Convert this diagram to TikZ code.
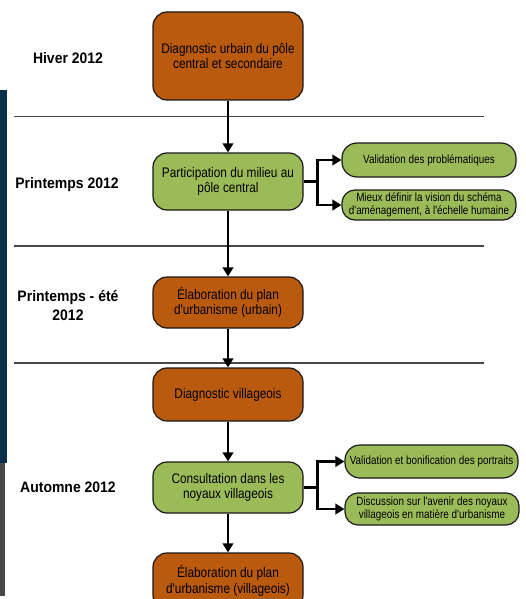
\documentclass[tikz,border=0pt]{standalone}
\usepackage{fontspec}
\setmainfont{Liberation Sans}
\newfontfamily\boxfont[FakeStretch=0.85]{Liberation Sans}
\newfontfamily\smallfont[FakeStretch=0.83]{Liberation Sans}
\newfontfamily\labfont[FakeStretch=0.92]{Liberation Sans}
\usetikzlibrary{arrows.meta}
\definecolor{orng}{RGB}{186,90,14}
\definecolor{grn}{RGB}{155,187,89}
\definecolor{navy}{RGB}{8,48,72}
\definecolor{strip}{RGB}{72,72,72}
\tikzset{
  bigbox/.style={draw=black!90, line width=1.2pt, rounded corners=14pt,
    minimum width=150pt, align=center, inner sep=0pt, text=black,
    font=\boxfont\fontsize{13.9}{15.5}\selectfont},
  orangebox/.style={bigbox, fill=orng},
  greenbox/.style={bigbox, fill=grn},
  smallbox/.style={draw=black!90, line width=1.2pt, fill=grn, rounded corners=13pt,
    align=center, inner sep=0pt, text=black,
    font=\smallfont\fontsize{11.9}{13}\selectfont},
  flow/.style={line width=2.8pt, -{Triangle[length=9pt,width=10.5pt]}},
  sepline/.style={draw=black!72, line width=1.8pt},
  period/.style={font=\labfont\bfseries\fontsize{15.2}{19}\selectfont, align=center, text=black}
}
\begin{document}
\begin{tikzpicture}[x=1pt,y=-1pt]
\useasboundingbox (0,0) rectangle (525,599);
\clip (0,0) rectangle (525,599);
% left edge strip
\fill[navy] (0,90) rectangle (7,463);
\fill[strip] (0,463) rectangle (5,596);
% separators
\coordinate (l1a) at (14,116.5); \coordinate (l1b) at (484,116.5);
\coordinate (l2a) at (14,246);   \coordinate (l2b) at (484,246);
\coordinate (l3a) at (14,363);   \coordinate (l3b) at (484,363);
\draw[sepline] (l1a) -- (l1b);
\draw[sepline] (l2a) -- (l2b);
\draw[sepline] (l3a) -- (l3b);
% period labels
\node[period] (p1) at (68,58) {Hiver 2012};
\node[period] (p2) at (67,185) {Printemps 2012};
\node[period] (p3) at (68,305) {Printemps - été\\2012};
\node[period] (p4) at (68,487) {Automne 2012};
% main boxes
\node[orangebox, minimum height=88pt] (b1) at (228,56) {Diagnostic urbain du pôle\\central et secondaire};
\node[greenbox, minimum height=57pt] (b2) at (228,181.5) {Participation du milieu au\\pôle central};
\node[orangebox, minimum height=51pt] (b3) at (228,302.5) {Élaboration du plan\\d'urbanisme (urbain)};
\node[orangebox, minimum height=53pt] (b4) at (228,394.5) {Diagnostic villageois};
\node[greenbox, minimum height=51pt] (b5) at (228,487.5) {Consultation dans les\\noyaux villageois};
\node[orangebox, minimum height=56pt] (b6) at (228,581) {Élaboration du plan\\d'urbanisme (villageois)};
% side boxes
\node[smallbox, minimum width=174pt, minimum height=34pt, rounded corners=15pt] (sA) at (429,160) {Validation des problématiques};
\node[smallbox, minimum width=174pt, minimum height=30pt] (sB) at (429,205) {Mieux définir la vision du schéma\\d'aménagement, à l'échelle humaine};
\node[smallbox, minimum width=173pt, minimum height=33pt, rounded corners=15pt] (sC) at (431.5,461.5) {Validation et bonification des portraits};
\node[smallbox, minimum width=174pt, minimum height=32pt] (sD) at (432,509) {Discussion sur l'avenir des noyaux\\villageois en matière d'urbanisme};
% flow arrows
\draw[flow] (b1) -- (b2);
\draw[flow] (b2) -- (b3);
\draw[flow] (b3) -- (b4);
\draw[flow] (b4) -- (b5);
\draw[flow] (b5) -- (b6);
% branches
\draw[flow] (b2.east) -- ++(14,0) |- (sA.west);
\draw[flow] (b2.east) -- ++(14,0) |- (sB.west);
\draw[flow] (b5.east) -- ++(14,0) |- (sC.west);
\draw[flow] (b5.east) -- ++(14,0) |- (sD.west);
\end{tikzpicture}
\end{document}
